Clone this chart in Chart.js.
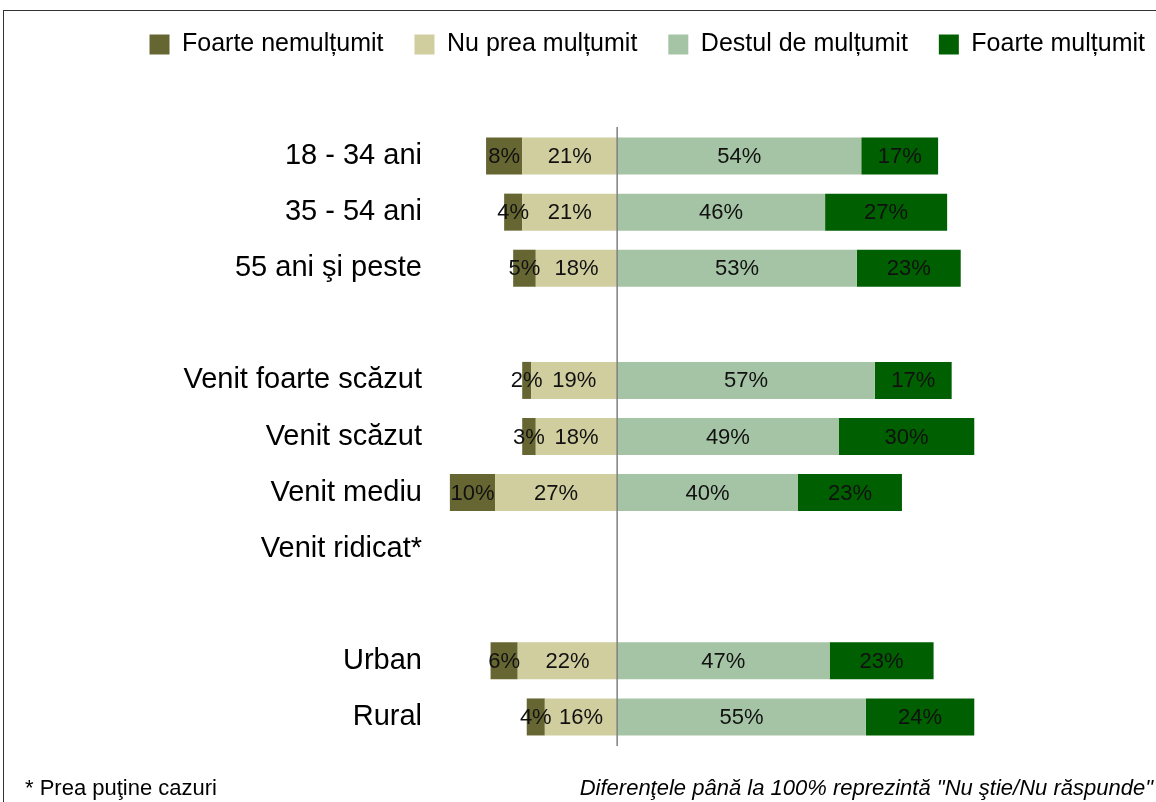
<!DOCTYPE html>
<html>
<head>
<meta charset="utf-8">
<script src="https://cdn.jsdelivr.net/npm/chart.js@4/dist/chart.umd.min.js"></script>
<style>
    body { margin: 0; background: #fff; font-family: "Liberation Sans", Arial, sans-serif; }
    #wrap { position: relative; width: 1156px; height: 802px; overflow: hidden; }
    #frame { position: absolute; left: 3px; top: 10px; width: 1160px; height: 800px; border: 1px solid #333; }
    #chart { position: absolute; left: 0; top: 0; }
    .note { position: absolute; top: 775px; font-size: 22px; color: #000; white-space: nowrap; }
    #note-left { left: 25px; }
    #note-right { right: 3px; font-style: italic; }
</style>
</head>
<body>
<div id="wrap">
    <div id="frame"></div>
    <canvas id="chart" width="1156" height="802"></canvas>
    <div class="note" id="note-left">* Prea puţine cazuri</div>
    <div class="note" id="note-right">Diferenţele până la 100% reprezintă "Nu ştie/Nu răspunde"</div>
</div>
<script>
// categorii (rândurile goale separă grupurile)
const categories = ['18 - 34 ani', '35 - 54 ani', '55 ani şi peste', '',
    'Venit foarte scăzut', 'Venit scăzut', 'Venit mediu', 'Venit ridicat*', '',
    'Urban', 'Rural'];

// valori (negative = nemulțumiți, la stânga axei)
const foarteNemultumit = [-8, -4, -5, null, -2, -3, -10, null, null, -6, -4];
const nuPreaMultumit = [-21, -21, -18, null, -19, -18, -27, null, null, -22, -16];
const destulMultumit = [54, 46, 53, null, 57, 49, 40, null, null, 47, 55];
const foarteMultumit = [17, 27, 23, null, 17, 30, 23, null, null, 23, 24];

const fontFamily = '"Liberation Sans", Arial, sans-serif';

// etichete procentuale pe fiecare segment
const barLabels = {
    id: 'barLabels',
    afterDatasetsDraw(chart) {
        const ctx = chart.ctx;
        ctx.save();
        ctx.font = '22px ' + fontFamily;
        ctx.fillStyle = '#111';
        ctx.textAlign = 'center';
        ctx.textBaseline = 'middle';
        chart.data.datasets.forEach((ds, i) => {
            const meta = chart.getDatasetMeta(i);
            meta.data.forEach((bar, j) => {
                const v = ds.data[j];
                if (v === null || v === undefined) return;
                ctx.fillText(Math.abs(v) + '%', (bar.x + bar.base) / 2, bar.y + 1);
            });
        });
        ctx.restore();
    }
};

// linia verticală la 0
const zeroLine = {
    id: 'zeroLine',
    afterDatasetsDraw(chart) {
        const x = chart.scales.x.getPixelForValue(0);
        const area = chart.chartArea;
        const ctx = chart.ctx;
        ctx.save();
        ctx.strokeStyle = '#7f7f7f';
        ctx.lineWidth = 1.5;
        ctx.beginPath();
        ctx.moveTo(x, area.top - 1);
        ctx.lineTo(x, area.bottom + 1);
        ctx.stroke();
        ctx.restore();
    }
};

// spațiu sub legendă + mutare spre dreapta
const legendGap = {
    id: 'legendGap',
    beforeInit(chart) {
        const fit = chart.legend.fit;
        chart.legend.fit = function () {
            fit.call(this);
            this.height += 61;
        };
    },
    afterLayout(chart) {
        chart.legend.left += 20;
        chart.legend.right += 20;
    }
};

new Chart(document.getElementById('chart'), {
    type: 'bar',
    data: {
        labels: categories,
        datasets: [
            { label: 'Foarte nemulțumit', data: foarteNemultumit, backgroundColor: '#666633', order: 1 },
            { label: 'Nu prea mulțumit', data: nuPreaMultumit, backgroundColor: '#d0cd9e', order: 0 },
            { label: 'Destul de mulțumit', data: destulMultumit, backgroundColor: '#a5c4a5', order: 2 },
            { label: 'Foarte mulțumit', data: foarteMultumit, backgroundColor: '#005f00', order: 3 }
        ]
    },
    options: {
        indexAxis: 'y',
        responsive: false,
        animation: false,
        layout: { padding: { top: 1, left: 0, right: 0, bottom: 57 } },
        datasets: {
            bar: { barPercentage: 0.66, categoryPercentage: 1, borderWidth: 0 }
        },
        scales: {
            x: {
                stacked: true,
                display: false,
                min: -41.4,
                max: 119.2
            },
            y: {
                stacked: true,
                grid: { display: false, drawTicks: false },
                border: { display: false },
                ticks: {
                    color: '#000',
                    padding: 8,
                    font: { size: 29, family: fontFamily }
                },
                afterFit(scale) {
                    scale.width = 430;
                }
            }
        },
        plugins: {
            legend: {
                position: 'top',
                align: 'end',
                labels: {
                    boxWidth: 20,
                    boxHeight: 20,
                    padding: 31,
                    color: '#000',
                    font: { size: 25, family: fontFamily },
                    sort: (a, b) => a.datasetIndex - b.datasetIndex
                }
            },
            tooltip: { enabled: false }
        }
    },
    plugins: [barLabels, zeroLine, legendGap]
});
</script>
</body>
</html>
